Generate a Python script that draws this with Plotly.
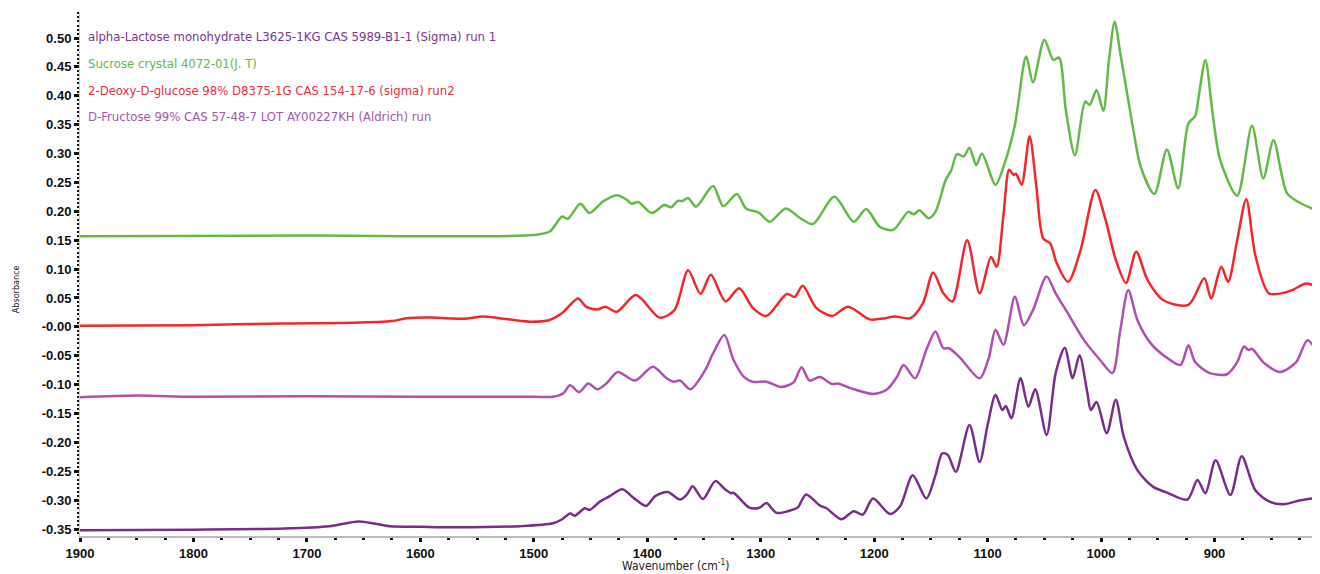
import plotly.graph_objects as go

# ---------------- data ----------------
sucrose_wn = [1900, 1700, 1500, 1486, 1475, 1470, 1459, 1451, 1439, 1427, 1418, 1414, 1408, 1396, 1385, 1379,
              1373, 1369, 1364, 1357, 1342, 1333, 1321, 1313, 1302, 1292, 1278, 1265, 1254, 1235, 1218, 1207,
              1195, 1183, 1170, 1165, 1160, 1152, 1146, 1137, 1132, 1127, 1121, 1116, 1110, 1105, 1093, 1085,
              1076, 1066, 1060, 1050, 1042, 1037, 1031, 1023, 1014, 1010, 1004, 998, 993, 988, 983, 977, 971,
              965, 953, 942, 932, 923, 917, 914, 908, 902, 895, 880, 867, 857, 848, 836, 824, 807]
sucrose_abs = [0.157, 0.158, 0.159, 0.165, 0.191, 0.187, 0.213, 0.197, 0.217, 0.228, 0.220, 0.213, 0.216, 0.197,
               0.211, 0.207, 0.218, 0.218, 0.223, 0.208, 0.244, 0.209, 0.230, 0.205, 0.198, 0.182, 0.205, 0.188,
               0.178, 0.225, 0.182, 0.204, 0.173, 0.168, 0.199, 0.195, 0.202, 0.188, 0.199, 0.254, 0.271, 0.299,
               0.295, 0.310, 0.280, 0.300, 0.246, 0.283, 0.349, 0.468, 0.423, 0.497, 0.462, 0.466, 0.375, 0.297,
               0.390, 0.384, 0.410, 0.374, 0.462, 0.528, 0.473, 0.404, 0.335, 0.277, 0.230, 0.307, 0.240, 0.352,
               0.365, 0.398, 0.462, 0.375, 0.289, 0.227, 0.348, 0.257, 0.323, 0.231, 0.214, 0.199]

deoxy_wn = [1900, 1800, 1720, 1660, 1625, 1612, 1590, 1560, 1545, 1530, 1504, 1486, 1475, 1461, 1454, 1444,
            1437, 1427, 1410, 1389, 1376, 1364, 1353, 1344, 1331, 1319, 1307, 1295, 1277, 1270, 1263, 1251,
            1237, 1223, 1204, 1190, 1182, 1168, 1157, 1148, 1139, 1131, 1118, 1107, 1097, 1092, 1086, 1081,
            1077, 1075, 1070, 1063, 1057, 1051, 1045, 1039, 1029, 1018, 1005, 996, 987, 978, 969, 959, 945,
            923, 909, 903, 894, 888, 880, 872, 864, 852, 837, 830, 819, 807]
deoxy_abs = [0.002, 0.003, 0.006, 0.007, 0.010, 0.015, 0.016, 0.014, 0.018, 0.015, 0.009, 0.012, 0.024, 0.049,
             0.035, 0.030, 0.035, 0.026, 0.055, 0.016, 0.029, 0.098, 0.057, 0.090, 0.044, 0.067, 0.033, 0.019,
             0.057, 0.052, 0.071, 0.033, 0.019, 0.035, 0.013, 0.015, 0.018, 0.015, 0.041, 0.094, 0.058, 0.044,
             0.150, 0.058, 0.121, 0.104, 0.194, 0.272, 0.263, 0.265, 0.246, 0.330, 0.243, 0.153, 0.145, 0.110,
             0.078, 0.133, 0.237, 0.185, 0.116, 0.076, 0.130, 0.081, 0.046, 0.038, 0.084, 0.049, 0.104, 0.078,
             0.150, 0.221, 0.124, 0.058, 0.060, 0.065, 0.075, 0.066]

fructose_wn = [1900, 1850, 1800, 1700, 1600, 1500, 1483, 1474, 1468, 1460, 1452, 1444, 1436, 1426, 1411, 1395,
               1383, 1377, 1371, 1362, 1349, 1342, 1332, 1324, 1315, 1307, 1295, 1282, 1271, 1264, 1257, 1248,
               1237, 1232, 1221, 1201, 1189, 1180, 1174, 1164, 1154, 1146, 1139, 1134, 1124, 1107, 1099, 1093,
               1086, 1076, 1068, 1060, 1048, 1040, 1030, 1015, 1001, 990, 983, 976, 968, 956, 943, 930, 923,
               917, 904, 889, 880, 874, 870, 867, 856, 842, 828, 818, 807]
fructose_abs = [-0.122, -0.119, -0.121, -0.120, -0.121, -0.121, -0.121, -0.115, -0.101, -0.113, -0.098, -0.108,
                -0.098, -0.078, -0.093, -0.069, -0.089, -0.095, -0.093, -0.108, -0.075, -0.046, -0.014, -0.057,
                -0.086, -0.095, -0.095, -0.104, -0.096, -0.070, -0.093, -0.087, -0.099, -0.098, -0.106, -0.116,
                -0.109, -0.087, -0.066, -0.089, -0.040, -0.008, -0.037, -0.037, -0.054, -0.089, -0.054, -0.005,
                -0.031, 0.052, 0.003, 0.029, 0.087, 0.058, 0.026, -0.023, -0.057, -0.080, -0.005, 0.064, 0.012,
                -0.029, -0.052, -0.066, -0.032, -0.061, -0.080, -0.082, -0.061, -0.034, -0.040, -0.038, -0.063,
                -0.078, -0.061, -0.023, -0.054]

lactose_wn = [1900, 1800, 1720, 1680, 1654, 1627, 1600, 1574, 1512, 1483, 1475, 1468, 1464, 1455, 1451, 1442,
              1433, 1422, 1412, 1401, 1393, 1382, 1371, 1365, 1360, 1351, 1340, 1332, 1326, 1324, 1310, 1301,
              1295, 1286, 1271, 1267, 1260, 1248, 1242, 1229, 1218, 1210, 1201, 1186, 1177, 1166, 1154, 1146,
              1140, 1135, 1128, 1116, 1107, 1100, 1093, 1087, 1084, 1079, 1071, 1064, 1058, 1048, 1040, 1032,
              1025, 1019, 1012, 1009, 1004, 995, 987, 980, 968, 954, 943, 924, 915, 908, 899, 886, 876, 864,
              851, 839, 824, 807]
lactose_abs = [-0.352, -0.351, -0.349, -0.345, -0.337, -0.345, -0.346, -0.347, -0.345, -0.340, -0.333, -0.323,
               -0.327, -0.314, -0.317, -0.303, -0.293, -0.281, -0.296, -0.310, -0.293, -0.286, -0.299, -0.290,
               -0.276, -0.298, -0.267, -0.280, -0.288, -0.287, -0.313, -0.313, -0.305, -0.322, -0.316, -0.312,
               -0.290, -0.309, -0.314, -0.333, -0.319, -0.325, -0.297, -0.324, -0.310, -0.257, -0.297, -0.257,
               -0.219, -0.222, -0.251, -0.170, -0.234, -0.170, -0.118, -0.144, -0.137, -0.158, -0.089, -0.138,
               -0.108, -0.187, -0.080, -0.036, -0.089, -0.049, -0.115, -0.144, -0.130, -0.184, -0.126, -0.190,
               -0.248, -0.277, -0.286, -0.299, -0.265, -0.288, -0.231, -0.291, -0.224, -0.283, -0.303, -0.307,
               -0.300, -0.295]

series_names = [
    "alpha-Lactose monohydrate L3625-1KG CAS 5989-B1-1 (Sigma) run 1",
    "Sucrose crystal 4072-01(J. T)",
    "2-Deoxy-D-glucose 98% D8375-1G CAS 154-17-6 (sigma) run2",
    "D-Fructose 99% CAS 57-48-7 LOT AY00227KH (Aldrich) run",
]

y_tick_vals = [0.50, 0.45, 0.40, 0.35, 0.30, 0.25, 0.20, 0.15, 0.10, 0.05, 0.00,
               -0.05, -0.10, -0.15, -0.20, -0.25, -0.30, -0.35]
y_tick_text = ["0.50", "0.45", "0.40", "0.35", "0.30", "0.25", "0.20", "0.15", "0.10", "0.05", "-0.00",
               "-0.05", "-0.10", "-0.15", "-0.20", "-0.25", "-0.30", "-0.35"]
x_tick_vals = [1900, 1800, 1700, 1600, 1500, 1400, 1300, 1200, 1100, 1000, 900]

# ---------------- styles ----------------
line_colors = ["#7B2D8B", "#62BB46", "#F5262B", "#B24FB1"]
text_colors = ["#7B3592", "#5EBB47", "#EE2D3A", "#A259A9"]

fig = go.Figure()
traces = [
    (lactose_wn, lactose_abs, 0),
    (fructose_wn, fructose_abs, 3),
    (deoxy_wn, deoxy_abs, 2),
    (sucrose_wn, sucrose_abs, 1),
]
for wn, ab, idx in traces:
    fig.add_trace(go.Scatter(
        x=wn, y=ab, mode="lines", name=series_names[idx],
        line=dict(color=line_colors[idx], width=2.5, shape="spline", smoothing=0.8),
        showlegend=False, hoverinfo="skip",
    ))

label_font = "DejaVu Sans Condensed, Liberation Sans Narrow, sans-serif"
legend_y = [0.953, 0.902, 0.851, 0.800]
for i, name in enumerate(series_names):
    fig.add_annotation(
        x=0.005, y=legend_y[i], xref="paper", yref="paper",
        xanchor="left", yanchor="middle", showarrow=False,
        text=name, font=dict(family=label_font, size=13, color=text_colors[i]),
    )

fig.add_annotation(
    x=-0.052, y=0.47, xref="paper", yref="paper", textangle=-90,
    xanchor="center", yanchor="middle", showarrow=False,
    text="Absorbance", font=dict(family=label_font, size=9, color="#222222"),
)
fig.add_annotation(
    x=0.481, y=-0.055, xref="paper", yref="paper",
    xanchor="center", yanchor="middle", showarrow=False,
    text="Wavenumber (cm<sup>-1</sup>)", font=dict(family=label_font, size=12, color="#222222"),
)

tick_font = dict(family="Liberation Sans, Arial, sans-serif", size=13, color="#111111", weight="bold")

# the page body adds an 8px offset, so margins are shifted to keep the plot area in place
fig.update_layout(
    width=1312, height=566,
    margin=dict(l=72, r=0, t=4, b=38),
    paper_bgcolor="white", plot_bgcolor="white",
    xaxis=dict(
        range=[1900, 807], tickvals=x_tick_vals, ticks="outside", ticklen=4, tickwidth=3,
        tickcolor="#111111", showgrid=False, zeroline=False, showline=True,
        linecolor="#BBBBBB", linewidth=2, tickfont=tick_font,
        minor=dict(dtick=25, tick0=0, ticks="outside", ticklen=2, tickwidth=3, tickcolor="#111111",
                   showgrid=False),
    ),
    yaxis=dict(
        range=[-0.362, 0.545], tickvals=y_tick_vals, ticktext=y_tick_text, ticks="outside",
        ticklen=5, tickwidth=3, tickcolor="#111111", showgrid=False, zeroline=False,
        showline=True, linecolor="#CCCCCC", linewidth=1, tickfont=tick_font,
        minor=dict(dtick=0.05 / 7, tick0=0, ticks="outside", ticklen=2, tickwidth=2,
                   tickcolor="#111111", showgrid=False),
    ),
)

fig.write_html("out.html")
